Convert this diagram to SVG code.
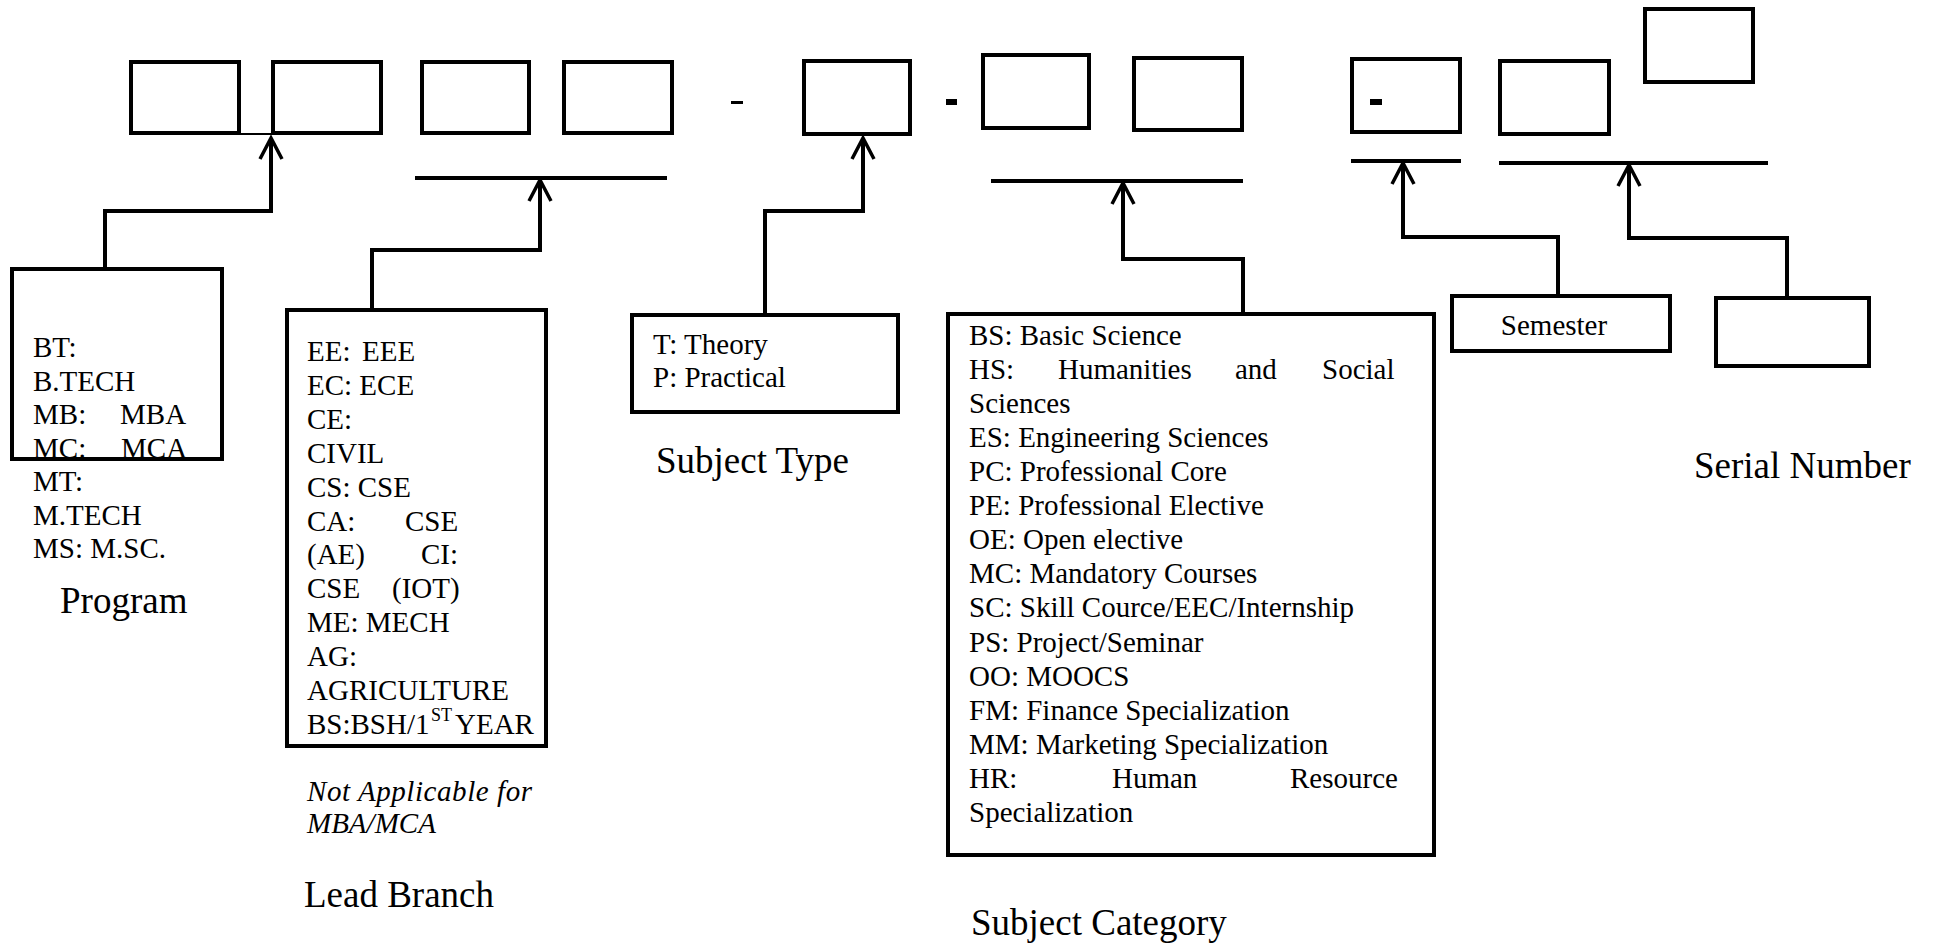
<svg xmlns="http://www.w3.org/2000/svg" width="1934" height="948" viewBox="0 0 1934 948">
<style>
.box{fill:none;stroke:#000;stroke-width:4}
.ln{fill:none;stroke:#000;stroke-width:4}
.t{font-family:"Liberation Serif","Times New Roman",serif;font-size:29px;fill:#000}
.lbl{font-family:"Liberation Serif","Times New Roman",serif;font-size:37px;fill:#000}
.it{font-family:"Liberation Serif","Times New Roman",serif;font-size:29px;font-style:italic;fill:#000}
</style>
<defs>
<marker id="arr" markerUnits="userSpaceOnUse" markerWidth="26" markerHeight="26" viewBox="0 0 26 26" refX="23" refY="13" orient="auto">
<path d="M2,2 L23,13 L2,24" fill="none" stroke="#000" stroke-width="3.5"/>
</marker>
</defs>
<rect width="1934" height="948" fill="#fff"/>

<g id="code-boxes">
<rect class="box" x="131" y="62" width="108" height="71"/>
<rect class="box" x="273" y="62" width="108" height="71"/>
<rect class="box" x="422" y="62" width="107" height="71"/>
<rect class="box" x="564" y="62" width="108" height="71"/>
<rect x="731" y="101" width="12" height="3" fill="#000"/>
<rect class="box" x="804" y="61" width="106" height="73"/>
<rect x="946" y="99" width="11" height="6" fill="#000"/>
<rect class="box" x="983" y="55" width="106" height="73"/>
<rect class="box" x="1134" y="58" width="108" height="72"/>
<rect class="box" x="1352" y="59" width="108" height="73"/>
<rect x="1370" y="99" width="12" height="6" fill="#000"/>
<rect class="box" x="1500" y="61" width="109" height="73"/>
<rect class="box" x="1645" y="9" width="108" height="73"/>
<line x1="241" y1="134" x2="271" y2="134" stroke="#000" stroke-width="2"/>
</g>

<g id="underlines">
<line class="ln" x1="415" y1="178" x2="667" y2="178"/>
<line class="ln" x1="991" y1="181" x2="1243" y2="181"/>
<line class="ln" x1="1351" y1="161" x2="1461" y2="161"/>
<line class="ln" x1="1499" y1="163" x2="1768" y2="163"/>
</g>

<g id="connectors">
<path class="ln" d="M105,267 V211 H271 V138" marker-end="url(#arr)"/>
<path class="ln" d="M372,308 V250 H540 V180" marker-end="url(#arr)"/>
<path class="ln" d="M765,313 V211 H863 V138" marker-end="url(#arr)"/>
<path class="ln" d="M1243,312 V259 H1123 V183" marker-end="url(#arr)"/>
<path class="ln" d="M1558,294 V237 H1403 V163" marker-end="url(#arr)"/>
<path class="ln" d="M1787,296 V238 H1629 V165" marker-end="url(#arr)"/>
</g>

<g id="program">
<rect class="box" x="12" y="269" width="210" height="190"/>
<text class="t" x="33" y="357">BT:</text>
<text class="t" x="33" y="390.5">B.TECH</text>
<text class="t" y="424"><tspan x="33">MB:</tspan><tspan x="120">MBA</tspan></text>
<text class="t" y="457.5"><tspan x="33">MC:</tspan><tspan x="121">MCA</tspan></text>
<text class="t" x="33" y="491">MT:</text>
<text class="t" x="33" y="524.5">M.TECH</text>
<text class="t" x="33" y="558">MS: M.SC.</text>
<text class="lbl" x="60" y="613">Program</text>
</g>

<g id="lead-branch">
<rect class="box" x="287" y="310" width="259" height="436"/>
<text class="t" y="361"><tspan x="307">EE:</tspan><tspan x="362">EEE</tspan></text>
<text class="t" x="307" y="394.9">EC: ECE</text>
<text class="t" x="307" y="428.8">CE:</text>
<text class="t" x="307" y="462.7">CIVIL</text>
<text class="t" x="307" y="496.6">CS: CSE</text>
<text class="t" y="530.5"><tspan x="307">CA:</tspan><tspan x="405">CSE</tspan></text>
<text class="t" y="564.4"><tspan x="307">(AE)</tspan><tspan x="421">CI:</tspan></text>
<text class="t" y="598.3"><tspan x="307">CSE</tspan><tspan x="392">(IOT)</tspan></text>
<text class="t" x="307" y="632.2">ME: MECH</text>
<text class="t" x="307" y="666.1">AG:</text>
<text class="t" x="307" y="700">AGRICULTURE</text>
<text class="t" y="733.9"><tspan x="307">BS:BSH/1</tspan><tspan x="431" y="721" font-size="18">ST</tspan><tspan x="455" y="733.9">YEAR</tspan></text>
<text class="it" x="307" y="801" textLength="225" lengthAdjust="spacing">Not Applicable for</text>
<text class="it" x="307" y="833">MBA/MCA</text>
<text class="lbl" x="304" y="907">Lead Branch</text>
</g>

<g id="subject-type">
<rect class="box" x="632" y="315" width="266" height="97"/>
<text class="t" x="653" y="354">T: Theory</text>
<text class="t" x="653" y="387">P: Practical</text>
<text class="lbl" x="656" y="473">Subject Type</text>
</g>

<g id="subject-category">
<rect class="box" x="948" y="314" width="486" height="541"/>
<text class="t" x="969" y="344.6">BS: Basic Science</text>
<text class="t" y="378.7"><tspan x="969">HS:</tspan><tspan x="1058">Humanities</tspan><tspan x="1235">and</tspan><tspan x="1322">Social</tspan></text>
<text class="t" x="969" y="412.8">Sciences</text>
<text class="t" x="969" y="446.9">ES: Engineering Sciences</text>
<text class="t" x="969" y="481">PC: Professional Core</text>
<text class="t" x="969" y="515.1">PE: Professional Elective</text>
<text class="t" x="969" y="549.2">OE: Open elective</text>
<text class="t" x="969" y="583.3">MC: Mandatory Courses</text>
<text class="t" x="969" y="617.4">SC: Skill Cource/EEC/Internship</text>
<text class="t" x="969" y="651.5">PS: Project/Seminar</text>
<text class="t" x="969" y="685.6">OO: MOOCS</text>
<text class="t" x="969" y="719.7">FM: Finance Specialization</text>
<text class="t" x="969" y="753.8">MM: Marketing Specialization</text>
<text class="t" y="787.9"><tspan x="969">HR:</tspan><tspan x="1112">Human</tspan><tspan x="1290">Resource</tspan></text>
<text class="t" x="969" y="822">Specialization</text>
<text class="lbl" x="971" y="935">Subject Category</text>
</g>

<g id="semester">
<rect class="box" x="1452" y="296" width="218" height="55"/>
<text class="t" x="1554" y="335" text-anchor="middle" font-size="28">Semester</text>
</g>

<g id="serial-number">
<rect class="box" x="1716" y="298" width="153" height="68"/>
<text class="lbl" x="1694" y="478">Serial Number</text>
</g>
</svg>
